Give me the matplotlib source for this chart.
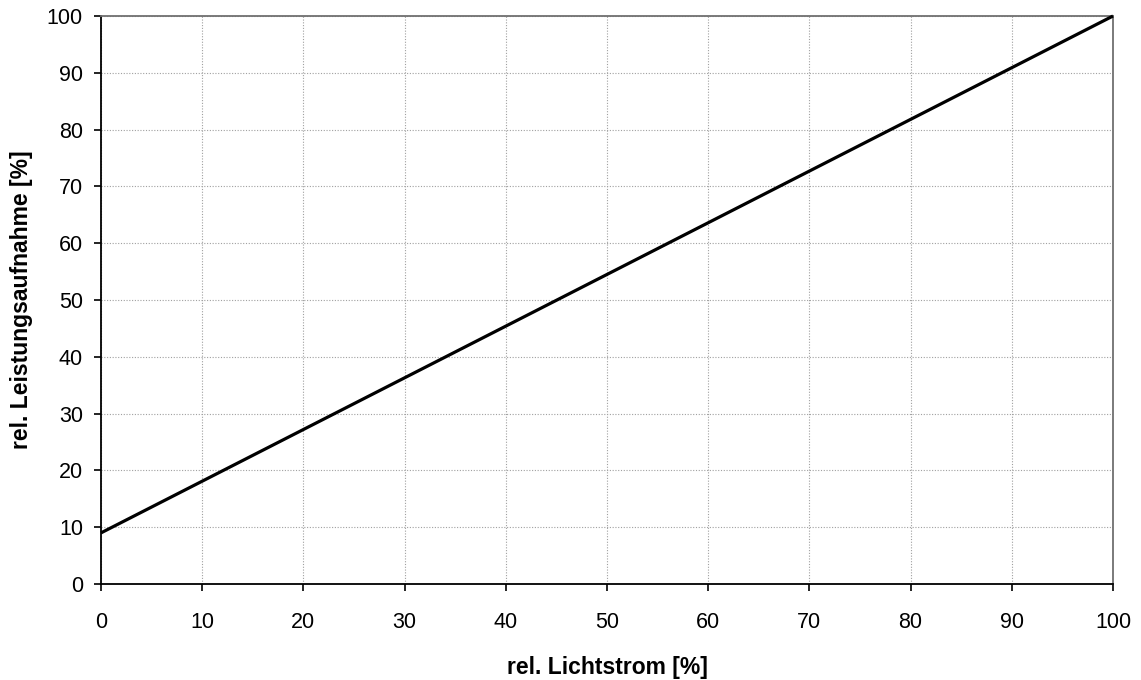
import matplotlib
matplotlib.use("Agg")
import matplotlib.pyplot as plt

lichtstrom = [0, 100]
leistung = [9, 100]
xticks = list(range(0, 101, 10))
yticks = list(range(0, 101, 10))

plt.rcParams['font.family'] = ['Liberation Sans', 'DejaVu Sans']

fig = plt.figure(figsize=(11.41, 6.80), dpi=100)
ax = fig.add_axes([101/1141, 96/680, (1113-101)/1141, (584-16)/680])

ax.plot(lichtstrom, leistung, color='black', lw=2.3, solid_capstyle='butt', zorder=3, clip_on=False)
ax.set_xlim(0, 100)
ax.set_ylim(0, 100)
ax.set_xticks(xticks)
ax.set_yticks(yticks)
ax.grid(True, color='#a0a0a0', linestyle=(0, (1, 1.5)), linewidth=0.8)
ax.tick_params(axis='both', direction='out', length=5, width=1.2, labelsize=15.5, colors='black')
ax.tick_params(axis='x', pad=15)
ax.tick_params(axis='y', pad=8)
for s in ['left', 'bottom']:
    ax.spines[s].set_color('black')
    ax.spines[s].set_linewidth(1.3)
for s in ['top', 'right']:
    ax.spines[s].set_color('#707070')
    ax.spines[s].set_linewidth(1.3)

ax.set_xlabel('rel. Lichtstrom [%]', fontsize=16.5, fontweight='bold', labelpad=17)
ax.set_ylabel('rel. Leistungsaufnahme [%]', fontsize=16.5, fontweight='bold', labelpad=10)

fig.savefig('out.png', dpi=100)
